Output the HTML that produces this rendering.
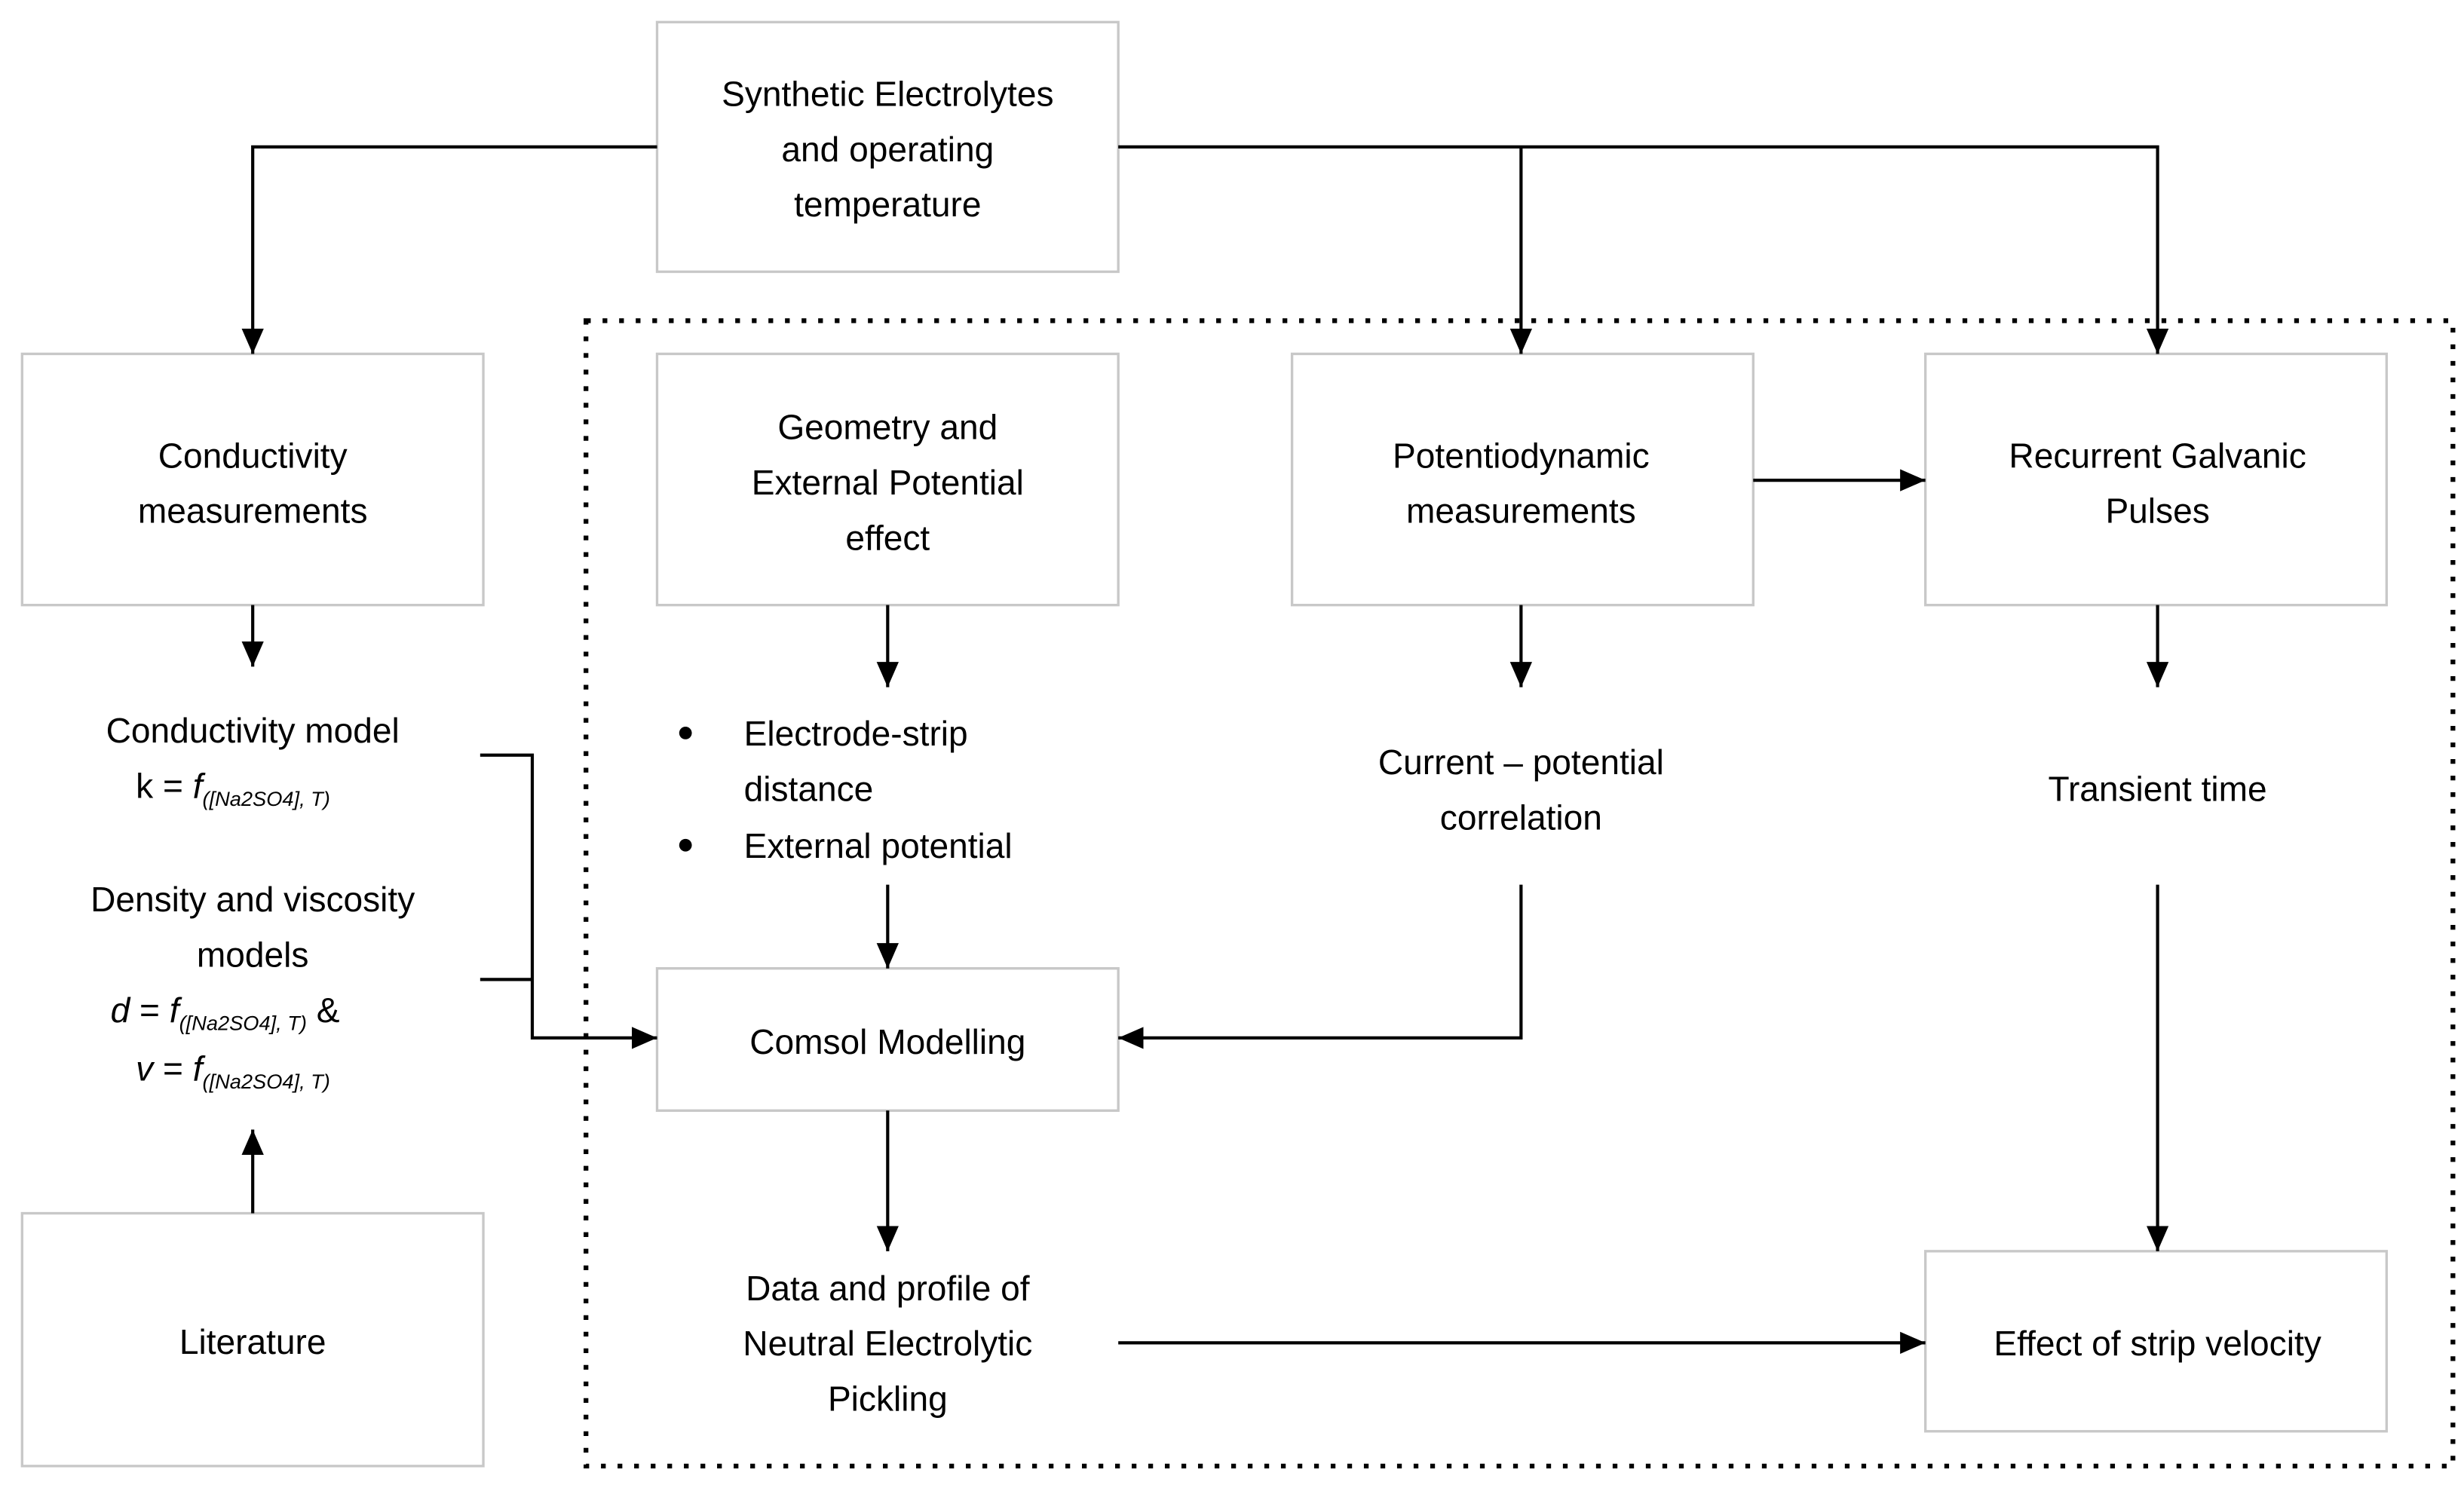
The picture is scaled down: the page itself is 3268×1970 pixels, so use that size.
<!DOCTYPE html>
<html><head><meta charset="utf-8"><style>
html,body{margin:0;padding:0;background:#fff;}
svg{display:block;}
text{font-family:"Liberation Sans",sans-serif;font-size:22px;fill:#000;}
.sub{font-size:13px;font-style:italic;}
.it{font-style:italic;}
</style></head><body>
<svg width="3268" height="1970" viewBox="0 0 1560 940" preserveAspectRatio="none" xmlns="http://www.w3.org/2000/svg">
<defs>
<marker id="ah" markerWidth="16" markerHeight="14" refX="16" refY="7" orient="auto" markerUnits="userSpaceOnUse" viewBox="0 0 16 14">
<path d="M0,0 L16,7 L0,14 z" fill="#000"/>
</marker>
</defs>
<rect x="0" y="0" width="1560" height="940" fill="#fff"/>
<rect x="371" y="203" width="1182" height="725" fill="none" stroke="#000" stroke-width="3" stroke-dasharray="3 7.5"/>
<g fill="#fff" stroke="#c8c8c8" stroke-width="1.6">
<rect x="416" y="14" width="292" height="158"/>
<rect x="14" y="224" width="292" height="159"/>
<rect x="416" y="224" width="292" height="159"/>
<rect x="818" y="224" width="292" height="159"/>
<rect x="1219" y="224" width="292" height="159"/>
<rect x="416" y="613" width="292" height="90"/>
<rect x="14" y="768" width="292" height="160"/>
<rect x="1219" y="792" width="292" height="114"/>
</g>
<g fill="none" stroke="#000" stroke-width="2" marker-end="url(#ah)">
<polyline points="416,93 160,93 160,224"/>
<polyline points="708,93 1366,93 1366,224"/>
<line x1="963" y1="93" x2="963" y2="224"/>
<line x1="1110" y1="304" x2="1219" y2="304"/>
<line x1="160" y1="383" x2="160" y2="422"/>
<line x1="562" y1="383" x2="562" y2="435"/>
<line x1="963" y1="383" x2="963" y2="435"/>
<line x1="1366" y1="383" x2="1366" y2="435"/>
<polyline points="304,478 337,478 337,657 416,657"/>
<line x1="160" y1="768" x2="160" y2="715"/>
<line x1="562" y1="560" x2="562" y2="613"/>
<polyline points="963,560 963,657 708,657"/>
<line x1="562" y1="703" x2="562" y2="792"/>
<line x1="708" y1="850" x2="1219" y2="850"/>
<line x1="1366" y1="560" x2="1366" y2="792"/>
</g>
<line x1="304" y1="620" x2="337" y2="620" stroke="#000" stroke-width="2"/>
<g text-anchor="middle">
<text x="562" y="67">Synthetic Electrolytes</text>
<text x="562" y="102">and operating</text>
<text x="562" y="137">temperature</text>
<text x="160" y="296">Conductivity</text>
<text x="160" y="331">measurements</text>
<text x="562" y="278">Geometry and</text>
<text x="562" y="313">External Potential</text>
<text x="562" y="348">effect</text>
<text x="963" y="296">Potentiodynamic</text>
<text x="963" y="331">measurements</text>
<text x="1366" y="296">Recurrent Galvanic</text>
<text x="1366" y="331">Pulses</text>
<text x="160" y="470">Conductivity model</text>
<text x="160" y="577">Density and viscosity</text>
<text x="160" y="612">models</text>
<text x="963" y="490">Current – potential</text>
<text x="963" y="525">correlation</text>
<text x="1366" y="507">Transient time</text>
<text x="562" y="667">Comsol Modelling</text>
<text x="562" y="823">Data and profile of</text>
<text x="562" y="858">Neutral Electrolytic</text>
<text x="562" y="893">Pickling</text>
<text x="160" y="857">Literature</text>
<text x="1366" y="858">Effect of strip velocity</text>
</g>
<text x="86" y="505">k = <tspan class="it">f</tspan><tspan class="sub" dy="5">([Na2SO4], T)</tspan></text>
<text x="70" y="647"><tspan class="it">d</tspan> = <tspan class="it">f</tspan><tspan class="sub" dy="5">([Na2SO4], T)</tspan><tspan dy="-5"> &amp;</tspan></text>
<text x="86" y="684"><tspan class="it">v</tspan> = <tspan class="it">f</tspan><tspan class="sub" dy="5">([Na2SO4], T)</tspan></text>
<circle cx="434" cy="464" r="4" fill="#000"/>
<circle cx="434" cy="535" r="4" fill="#000"/>
<text x="471" y="472">Electrode-strip</text>
<text x="471" y="507">distance</text>
<text x="471" y="543">External potential</text>
</svg>
</body></html>
